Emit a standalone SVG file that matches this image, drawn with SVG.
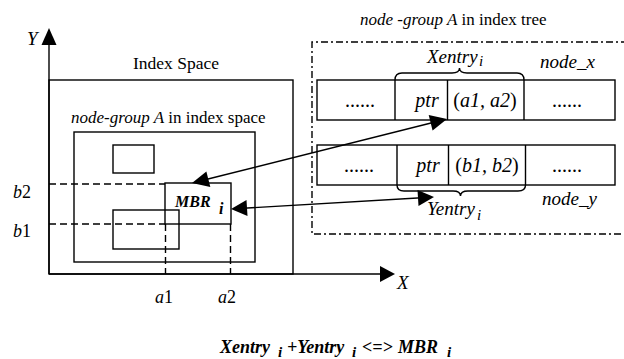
<svg xmlns="http://www.w3.org/2000/svg" width="624" height="359" viewBox="0 0 624 359">
<style>
.it{font-style:italic}
.bi{font-style:italic;font-weight:bold}
.box{fill:#fff;stroke:#000;stroke-width:1.4}
.ln{fill:none;stroke:#000;stroke-width:1.4}
.dash{fill:none;stroke:#000;stroke-width:1.4;stroke-dasharray:7 4}
.dd{fill:none;stroke:#000;stroke-width:1.4;stroke-dasharray:7 3 2 3}
.head{fill:#000;stroke:none}
</style>
<rect width="624" height="359" fill="#fff"/>

<g id="index-space">
<rect class="box" x="49" y="80" width="244" height="194"/>
<text font-family="'Liberation Serif', serif" x="176" y="69" font-size="17.5" text-anchor="middle">Index Space</text>
</g>

<g id="node-group-space">
<rect class="box" x="74" y="132" width="181" height="130"/>
<text font-family="'Liberation Serif', serif" x="71" y="123" font-size="17"><tspan class="it">node-group A</tspan> in index space</text>
</g>

<g id="small-rect-top">
<rect class="box" x="113" y="145" width="41" height="28"/>
</g>

<g id="small-rect-low">
<rect class="box" x="113" y="210" width="66" height="39"/>
</g>

<g id="mbr">
<rect class="ln" x="165" y="183" width="66" height="41"/>
<text font-family="'Liberation Serif', serif" class="bi" x="175" y="207" font-size="16">MBR</text>
<text font-family="'Liberation Serif', serif" class="bi" x="219" y="214" font-size="16">i</text>
</g>

<g id="guides">
<path class="dash" d="M49,184 H165 M49,224 H165 M165.5,224 V274 M230.5,224 V274"/>
<text font-family="'Liberation Serif', serif" x="13" y="198" font-size="18"><tspan class="it">b</tspan>2</text>
<text font-family="'Liberation Serif', serif" x="13" y="237" font-size="18"><tspan class="it">b</tspan>1</text>
<text font-family="'Liberation Serif', serif" x="155" y="303" font-size="18"><tspan class="it">a</tspan>1</text>
<text font-family="'Liberation Serif', serif" x="218" y="303" font-size="18"><tspan class="it">a</tspan>2</text>
</g>

<g id="axes">
<path class="ln" d="M49,274 V40"/>
<polygon class="head" points="49,28 41.5,45 56.5,45"/>
<path class="ln" d="M49,274 H385"/>
<polygon class="head" points="395,274 380,266 380,282"/>
<text font-family="'Liberation Serif', serif" class="it" x="27" y="45" font-size="19">Y</text>
<text font-family="'Liberation Serif', serif" class="it" x="397" y="289" font-size="19">X</text>
</g>

<g id="node-group-tree">
<path class="dd" d="M628,42 H312 V234 H628"/>
<text font-family="'Liberation Serif', serif" x="360" y="25" font-size="17"><tspan class="it">node -group A</tspan> in index tree</text>
</g>

<g id="node-x">
<rect class="box" x="317" y="80" width="298" height="40"/>
<path class="ln" d="M395,80 V120 M447.5,80 V120 M524,80 V120"/>
<text font-family="'Liberation Serif', serif" x="360" y="107" font-size="20" text-anchor="middle">......</text>
<text font-family="'Liberation Serif', serif" class="it" x="427" y="107" font-size="20" text-anchor="middle">ptr</text>
<text font-family="'Liberation Serif', serif" x="485" y="107" font-size="20" text-anchor="middle">(<tspan class="it">a1, a2</tspan>)</text>
<text font-family="'Liberation Serif', serif" x="567" y="107" font-size="20" text-anchor="middle">......</text>
<text font-family="'Liberation Serif', serif" class="it" x="540" y="68" font-size="19">node_x</text>
</g>

<g id="node-y">
<rect class="box" x="317" y="145" width="298" height="40"/>
<path class="ln" d="M397,145 V185 M448.5,145 V185 M525.5,145 V185"/>
<text font-family="'Liberation Serif', serif" x="359" y="172" font-size="20" text-anchor="middle">......</text>
<text font-family="'Liberation Serif', serif" class="it" x="428" y="172" font-size="20" text-anchor="middle">ptr</text>
<text font-family="'Liberation Serif', serif" x="487" y="172" font-size="20" text-anchor="middle">(<tspan class="it">b1, b2</tspan>)</text>
<text font-family="'Liberation Serif', serif" x="567" y="172" font-size="20" text-anchor="middle">......</text>
<text font-family="'Liberation Serif', serif" class="it" x="542" y="205" font-size="19">node_y</text>
</g>

<g id="xentry">
<path class="ln" d="M395,80 Q395,73 402,73 H452 Q459.5,73 459.5,68 Q459.5,73 467,73 H517 Q524,73 524,80"/>
<text font-family="'Liberation Serif', serif" class="it" x="427" y="63" font-size="19">Xentry</text>
<text font-family="'Liberation Serif', serif" class="it" x="479" y="66" font-size="15">i</text>
</g>

<g id="yentry">
<path class="ln" d="M397,185 Q397,191 404,191 H453 Q460.5,191 460.5,196 Q460.5,191 468,191 H518 Q525.5,191 525.5,185"/>
<text font-family="'Liberation Serif', serif" class="it" x="427" y="215" font-size="19">Yentry</text>
<text font-family="'Liberation Serif', serif" class="it" x="477" y="220" font-size="15">i</text>
</g>

<g id="connectors">
<path class="ln" d="M200,181 L439,121"/>
<polygon class="head" points="192,183 206.4,171.6 210.3,187.1"/>
<polygon class="head" points="447,119 432.6,130.4 428.7,114.9"/>
<path class="ln" d="M239,208.5 L426,197.5"/>
<polygon class="head" points="231,209 246.5,200.1 247.5,216.1"/>
<polygon class="head" points="434,197 418.5,205.9 417.5,189.9"/>
</g>

<g id="formula">
<text font-family="'Liberation Serif', serif" class="bi" x="220" y="353" font-size="18">Xentry</text>
<text font-family="'Liberation Serif', serif" class="bi" x="278" y="357" font-size="15">i</text>
<text font-family="'Liberation Serif', serif" class="bi" x="287" y="353" font-size="18">+Yentry</text>
<text font-family="'Liberation Serif', serif" class="bi" x="352" y="357" font-size="15">i</text>
<text font-family="'Liberation Serif', serif" class="bi" x="362" y="353" font-size="18">&lt;=&gt;</text>
<text font-family="'Liberation Serif', serif" class="bi" x="398" y="353" font-size="18">MBR</text>
<text font-family="'Liberation Serif', serif" class="bi" x="447" y="357" font-size="15">i</text>
</g>
</svg>
